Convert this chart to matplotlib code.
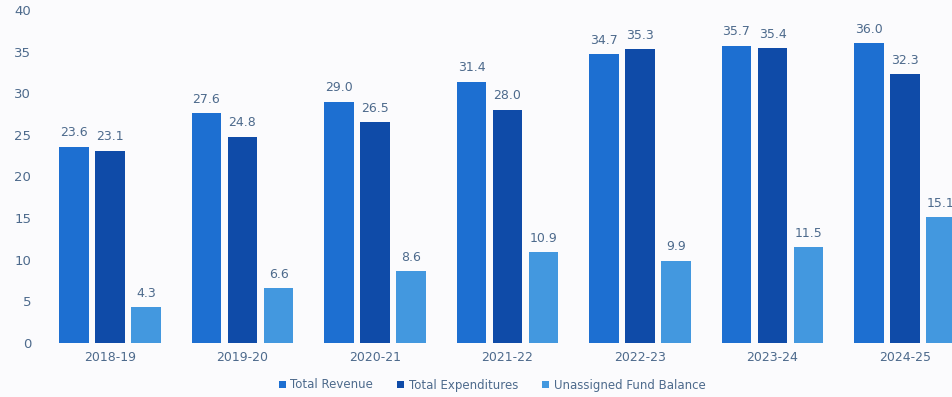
import matplotlib
matplotlib.use("Agg")
import matplotlib.pyplot as plt
import numpy as np

years = ["2018-19", "2019-20", "2020-21", "2021-22", "2022-23", "2023-24", "2024-25"]
total_revenue = [23.6, 27.6, 29.0, 31.4, 34.7, 35.7, 36.0]
total_expenditures = [23.1, 24.8, 26.5, 28.0, 35.3, 35.4, 32.3]
unassigned_fund = [4.3, 6.6, 8.6, 10.9, 9.9, 11.5, 15.1]
series_names = ["Total Revenue", "Total Expenditures", "Unassigned Fund Balance"]
yticks = [0, 5, 10, 15, 20, 25, 30, 35, 40]

colors = ["#1d6fd1", "#0f4ba8", "#4398df"]
text_color = "#4d6a8c"
plt.rcParams['font.family'] = ['DejaVu Sans']

fig = plt.figure(figsize=(9.52, 3.97), dpi=100, facecolor="#fbfbfd")
left_px, right_px = 45, 952
bottom_px, top_px = 397 - 343, 397 - 10
ax = fig.add_axes([left_px / 952, bottom_px / 397, (right_px - left_px) / 952, (top_px - bottom_px) / 397])
ax.set_facecolor("#fbfbfd")

x = np.arange(len(years))
spacing = 0.272
width = 0.222
for i, (vals, name) in enumerate(zip([total_revenue, total_expenditures, unassigned_fund], series_names)):
    pos = x + (i - 1) * spacing
    bars = ax.bar(pos, vals, width, color=colors[i], label=name)
    for b, v in zip(bars, vals):
        ax.text(b.get_x() + b.get_width() / 2, v + 0.9, f"{v:.1f}", ha="center", va="bottom",
                fontsize=9, color=text_color)

group_px = 132.5
first_center_px = 110
ax.set_xlim((left_px - first_center_px) / group_px, (right_px - first_center_px) / group_px)
ax.set_ylim(0, 40)
ax.set_xticks(x)
ax.set_xticklabels(years, fontsize=9, color=text_color)
ax.set_yticks(yticks)
ax.set_yticklabels([str(t) for t in yticks], fontsize=9.5, color=text_color)
ax.tick_params(axis="both", length=0)
ax.tick_params(axis="x", pad=6)
ax.tick_params(axis="y", pad=10)
for s in ax.spines.values():
    s.set_visible(False)

leg = fig.legend(loc="center", bbox_to_anchor=(492 / 952, 1 - 385 / 397), ncol=3, frameon=False,
                 fontsize=8.5, handlelength=0.6, handleheight=0.6, handletextpad=0.4, columnspacing=2.0)
for t in leg.get_texts():
    t.set_color(text_color)

fig.savefig("out.png", dpi=100, facecolor=fig.get_facecolor())
